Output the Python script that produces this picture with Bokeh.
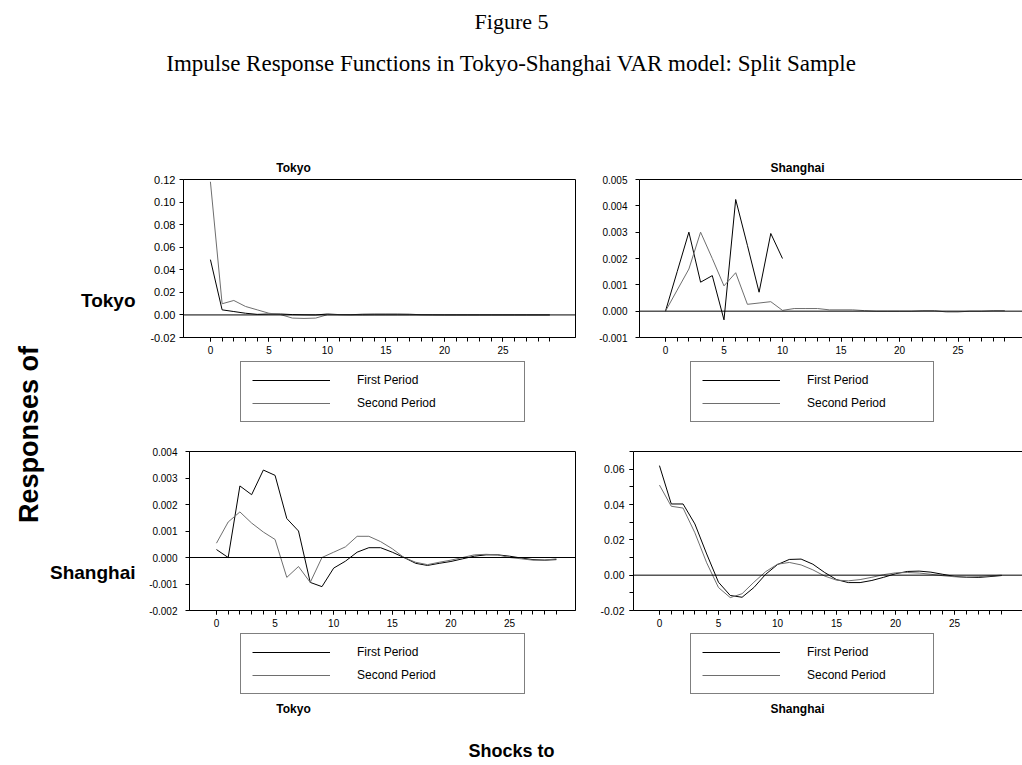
import math
from bokeh.plotting import figure
from bokeh.models import (Range1d, FixedTicker, PrintfTickFormatter, Span, Label,
                          LinearAxis, Legend, LegendItem)
from bokeh.layouts import column, row
from bokeh.embed import file_html
from bokeh.resources import INLINE

NaN = float("nan")

# ---------------- data ----------------
steps = list(range(30))
x_major_ticks = [0, 5, 10, 15, 20, 25]
x_minor_ticks = list(range(30))

series_names = ["First Period", "Second Period"]
row_names = ["Tokyo", "Shanghai"]
col_names = ["Tokyo", "Shanghai"]

# Responses of Tokyo to Tokyo
tt_first = [0.049, 0.0045, 0.003, 0.0015, 0.0005, 0.0008, 0.0008, 0.0003, 0.0001, 0.0,
            0.0008, 0.0003, 0.0002, 0.0006, 0.0007, 0.0007, 0.0007, 0.0006, 0.0002, 0.0001,
            0.0, 0.0, 0.0, 0.0, 0.0, 0.0, 0.0, 0.0, 0.0, 0.0]
tt_second = [0.118, 0.0099, 0.0128, 0.0075, 0.0045, 0.0015, 0.0003, -0.0028, -0.0031, -0.0028,
             0.0002, 0.0001, 0.0, -0.0001, 0.0, 0.0, 0.0, 0.0, 0.0, 0.0,
             0.0, 0.0, 0.0, 0.0, 0.0, 0.0, 0.0, 0.0, 0.0, 0.0]
tt_yticks = [-0.02, 0.0, 0.02, 0.04, 0.06, 0.08, 0.10, 0.12]

# Responses of Tokyo to Shanghai
ts_first = [0.0, 0.0015, 0.0030, 0.0011, 0.00135, -0.00033, 0.00424, 0.0025, 0.00072, 0.00295,
            0.0020, NaN, NaN, NaN, NaN, NaN, NaN, NaN, NaN, NaN,
            NaN, NaN, NaN, NaN, NaN, NaN, NaN, NaN, NaN, NaN]
ts_second = [0.0, 0.0008, 0.0016, 0.0030, 0.0020, 0.00096, 0.00146, 0.00026, 0.00031, 0.00036,
             0.00003, 0.0001, 0.0001, 0.0001, 0.00005, 0.00005, 0.00005, 0.00002, 0.0, 0.0,
             0.0, 0.0, 0.00002, 0.00002, -0.00003, -0.00003, 0.0, 0.0, 0.00002, 0.00002]
ts_yticks = [-0.001, 0.0, 0.001, 0.002, 0.003, 0.004, 0.005]

# Responses of Shanghai to Tokyo
st_first = [0.0003, 0.0, 0.0027, 0.00237, 0.0033, 0.0031, 0.00147, 0.001, -0.00094, -0.0011,
            -0.0004, -0.00014, 0.0002, 0.00037, 0.00037, 0.0002, 0.0, -0.00022, -0.0003, -0.00022,
            -0.00015, -0.00005, 0.00005, 0.0001, 0.0001, 0.00005, -0.00002, -0.00008, -0.0001, -0.00008]
st_second = [0.00054, 0.00134, 0.00172, 0.0013, 0.00096, 0.00068, -0.00075, -0.00034, -0.00094, 0.0,
             0.0002, 0.0004, 0.0008, 0.0008, 0.0006, 0.00033, 0.0, -0.00018, -0.00027, -0.00018,
             -0.0001, 0.0, 0.0001, 0.00012, 0.0001, 0.0, -0.00005, -0.0001, -0.0001, -0.00005]
st_yticks = [-0.002, -0.001, 0.0, 0.001, 0.002, 0.003, 0.004]

# Responses of Shanghai to Shanghai
ss_first = [0.062, 0.0403, 0.0403, 0.029, 0.012, -0.004, -0.0115, -0.0125, -0.007, 0.0005,
            0.006, 0.0089, 0.0091, 0.0062, 0.0015, -0.0025, -0.0042, -0.0042, -0.003, -0.0012,
            0.0008, 0.0021, 0.0023, 0.0017, 0.0005, -0.0007, -0.0012, -0.0013, -0.0008, -0.0002]
ss_second = [0.051, 0.039, 0.038, 0.024, 0.007, -0.007, -0.0127, -0.0105, -0.004, 0.002,
             0.0062, 0.0072, 0.0058, 0.003, -0.0005, -0.0028, -0.0032, -0.0025, -0.0012, 0.0003,
             0.0013, 0.0015, 0.0012, 0.0005, -0.0003, -0.0009, -0.0011, -0.0009, -0.0004, 0.0]
ss_yticks = [-0.02, 0.0, 0.02, 0.04, 0.06]
ss_yminor = [-0.02, -0.01, 0.0, 0.01, 0.02, 0.03, 0.04, 0.05, 0.06, 0.07]

# ---------------- styling ----------------
SANS = "Liberation Sans"
SERIF = "Liberation Serif"
C_FIRST = "#000000"
C_SECOND = "#6e6e6e"


def panel(width, height, mbl, mbr, mbt, mbb, xr, yr, yticks, yminor, yfmt,
          first, second, ylab_size, ylab_standoff, boxed):
    p = figure(width=width, height=height, x_range=Range1d(*xr), y_range=Range1d(*yr),
               output_backend="svg", toolbar_location=None,
               min_border_left=mbl, min_border_right=mbr,
               min_border_top=mbt, min_border_bottom=mbb,
               background_fill_color="white", border_fill_color="white")
    p.xgrid.visible = False
    p.ygrid.visible = False
    p.outline_line_color = "black" if boxed else None
    p.outline_line_width = 1

    xa = p.xaxis[0]
    xa.ticker = FixedTicker(ticks=x_major_ticks, minor_ticks=x_minor_ticks)
    xa.major_tick_in = 0
    xa.major_tick_out = 4
    xa.minor_tick_in = 0
    xa.minor_tick_out = 4
    xa.axis_line_color = "black"
    xa.major_tick_line_color = "black"
    xa.minor_tick_line_color = "black"
    xa.major_label_text_font = SANS
    xa.major_label_text_font_size = "10px"
    xa.major_label_text_color = "black"
    xa.major_label_standoff = 4

    ya = p.yaxis[0]
    ya.ticker = FixedTicker(ticks=yticks, minor_ticks=yminor)
    ya.formatter = PrintfTickFormatter(format=yfmt)
    ya.major_tick_in = 0
    ya.major_tick_out = 4
    ya.minor_tick_in = 0
    ya.minor_tick_out = 4
    ya.axis_line_color = "black"
    ya.major_tick_line_color = "black"
    ya.minor_tick_line_color = "black"
    ya.major_label_text_font = SANS
    ya.major_label_text_font_size = ylab_size
    ya.major_label_text_color = "black"
    ya.major_label_standoff = ylab_standoff

    if not boxed:
        top = LinearAxis(ticker=FixedTicker(ticks=[]), major_label_text_font_size="0px",
                         major_tick_line_color=None, minor_tick_line_color=None,
                         axis_line_color="black")
        p.add_layout(top, "above")

    p.add_layout(Span(location=0, dimension="width", line_color="black", line_width=1))

    p.line(steps, first, line_color=C_FIRST, line_width=1)
    p.line(steps, second, line_color=C_SECOND, line_width=1)
    return p


def blank(width, height):
    return figure(width=width, height=height, x_range=Range1d(0, 1), y_range=Range1d(0, 1),
                  output_backend="svg", toolbar_location=None, min_border=0,
                  x_axis_type=None, y_axis_type=None, outline_line_color=None,
                  background_fill_color="white", border_fill_color="white")


def text(p, x, y, s, font=SANS, size="12px", style="bold", align="center", angle=0.0):
    p.add_layout(Label(x=x, y=y, x_units="screen", y_units="screen", text=s,
                       text_font=font, text_font_size=size, text_font_style=style,
                       text_align=align, text_baseline="middle", text_color="black",
                       angle=angle))


def add_legend(f, r_first, r_second, x, y, label_width):
    lg = Legend(items=[LegendItem(label=series_names[0], renderers=[r_first]),
                       LegendItem(label=series_names[1], renderers=[r_second])],
                location=(x, y), orientation="vertical",
                border_line_color="black", border_line_width=1,
                background_fill_color="white", background_fill_alpha=1,
                padding=11, spacing=9, margin=0,
                glyph_width=78, glyph_height=14, label_height=14,
                label_width=label_width, label_standoff=27,
                label_text_font=SANS, label_text_font_size="12px",
                label_text_color="black")
    f.add_layout(lg)


def legend_strip(height, left_series, right_series, y):
    f = blank(882, height)
    la = f.line(steps, left_series[0], line_color=C_FIRST, line_width=1, visible=False)
    lb = f.line(steps, left_series[1], line_color=C_SECOND, line_width=1, visible=False)
    ra = f.line(steps, right_series[0], line_color=C_FIRST, line_width=1, visible=False)
    rb = f.line(steps, right_series[1], line_color=C_SECOND, line_width=1, visible=False)
    add_legend(f, la, lb, 100, y, 156)
    add_legend(f, ra, rb, 550, y, 115)
    return f


# header: 0..1022 x 0..175
header = blank(1022, 175)
text(header, 511, 154, "Figure 5", font=SERIF, size="22px", style="normal")
text(header, 511, 112, "Impulse Response Functions in Tokyo-Shanghai VAR model: Split Sample",
     font=SERIF, size="23px", style="normal")
text(header, 293, 8, col_names[0])
text(header, 797, 8, col_names[1])

# left strip: 0..140 x 175..765
strip = blank(140, 590)
text(strip, 28, 331, "Responses of", size="27px", angle=math.pi / 2)
text(strip, 135, 465, row_names[0], size="19px", align="right")
text(strip, 135, 193, row_names[1], size="19px", align="right")

# panels
tl = panel(450, 185, 43, 15, 4, 23, (-2.3, 31.2), (-0.02, 0.12), tt_yticks, [], "%.2f",
           tt_first, tt_second, "11px", 4, True)
tr = panel(432, 185, 49, 0, 4, 23, (-2.22, 30.51), (-0.001, 0.005), ts_yticks, [], "%.3f",
           ts_first, ts_second, "10px", 8, False)
bl = panel(450, 187, 49, 15, 6, 22, (-2.3, 30.63), (-0.002, 0.004), st_yticks, [], "%.3f",
           st_first, st_second, "10px", 8, True)
br = panel(432, 187, 43, 0, 6, 22, (-2.2, 30.76), (-0.02, 0.07), ss_yticks, ss_yminor, "%.2f",
           ss_first, ss_second, "10.5px", 5, False)

# legends under the top row: 140..1022 x 360..445
legend_top = legend_strip(85, (tt_first, tt_second), (ts_first, ts_second), 23)

# footer with legends of bottom row: 140..1022 x 632..765
footer = legend_strip(133, (st_first, st_second), (ss_first, ss_second), 71)
text(footer, 153, 57, col_names[0])
text(footer, 657, 57, col_names[1])
text(footer, 371, 15, "Shocks to", size="18px")

layout = column(header, row(strip, column(row(tl, tr), legend_top, row(bl, br), footer)))

open("out.html", "w").write(file_html(layout, INLINE))
